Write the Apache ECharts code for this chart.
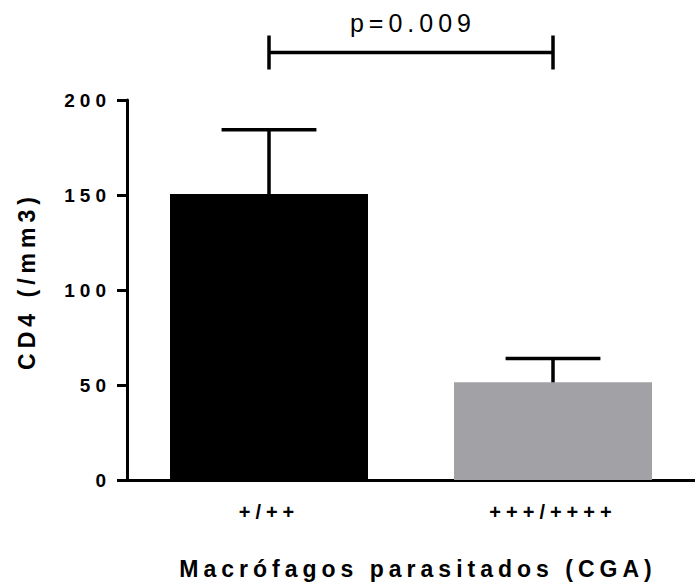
<!DOCTYPE html>
<html>
<head>
<meta charset="utf-8">
<script src="https://cdn.jsdelivr.net/npm/echarts@6/dist/echarts.min.js"></script>
<style>
  html, body { margin: 0; padding: 0; background: #fff; }
  #main { width: 695px; height: 585px; }
  /* wide letter spacing like the original GraphPad export */
  #main text { letter-spacing: 5px; }
</style>
</head>
<body>
<div id="main"></div>
<script>
// data
var categories = ['+/++', '+++/++++'];
var meanValues = [150.5, 51.4];
var errorValues = [33.8, 12.6]; // SD, upper side only
var barColors = ['#000000', '#a2a1a6'];
var yMin = 0, yMax = 200, yStep = 50;
var pLabel = 'p=0.009';
var bracketLevel = 225; // y value of the significance bracket

var FONT = '"Liberation Sans", Arial, sans-serif';

var chart = echarts.init(document.getElementById('main'), null, { renderer: 'svg' });

var option = {
  animation: false,
  backgroundColor: '#fff',
  grid: {
    left: 127,
    top: 100,
    width: 574,
    bottom: 104
  },
  xAxis: {
    type: 'category',
    data: categories,
    name: 'Macrófagos parasitados (CGA)',
    nameLocation: 'middle',
    nameGap: 77,
    nameTextStyle: { fontFamily: FONT, fontWeight: 'bold', fontSize: 23, color: '#000', padding: [0, 0, 0, 14] },
    axisLine: { lineStyle: { color: '#000', width: 3 } },
    axisTick: { alignWithLabel: true, length: 9, lineStyle: { color: '#000', width: 3 } },
    axisLabel: { fontFamily: FONT, fontWeight: 'bold', fontSize: 20, color: '#000', margin: 22 },
    splitLine: { show: false }
  },
  yAxis: {
    type: 'value',
    min: yMin,
    max: yMax,
    interval: yStep,
    name: 'CD4 (/mm3)',
    nameLocation: 'middle',
    nameGap: 89,
    nameTextStyle: { fontFamily: FONT, fontWeight: 'bold', fontSize: 23, color: '#000', padding: [0, 0, 0, 18] },
    axisLine: { show: true, lineStyle: { color: '#000', width: 3 } },
    axisTick: { show: true, length: 10, lineStyle: { color: '#000', width: 3 } },
    axisLabel: { fontFamily: FONT, fontWeight: 'bold', fontSize: 19, color: '#000', margin: 16 },
    splitLine: { show: false }
  },
  series: [
    {
      type: 'bar',
      barWidth: 198,
      data: meanValues.map(function (v, i) {
        return { value: v, itemStyle: { color: barColors[i] } };
      }),
      z: 2
    },
    {
      // error bars (mean -> mean + SD, with cap)
      type: 'custom',
      clip: false,
      z: 3,
      data: meanValues.map(function (v, i) { return [i, v, v + errorValues[i]]; }),
      renderItem: function (params, api) {
        var base = api.coord([api.value(0), api.value(1)]);
        var top = api.coord([api.value(0), api.value(2)]);
        var half = api.size([1, 0])[0] * 0.167;
        var st = { stroke: '#000', lineWidth: 3.5 };
        return {
          type: 'group',
          children: [
            { type: 'line', shape: { x1: base[0], y1: base[1], x2: top[0], y2: top[1] }, style: st },
            { type: 'line', shape: { x1: top[0] - half, y1: top[1], x2: top[0] + half, y2: top[1] }, style: st }
          ]
        };
      }
    },
    {
      // significance bracket
      type: 'custom',
      clip: false,
      z: 3,
      data: [[0, 1, bracketLevel]],
      renderItem: function (params, api) {
        var a = api.coord([api.value(0), api.value(2)]);
        var b = api.coord([api.value(1), api.value(2)]);
        var st = { stroke: '#000', lineWidth: 3.5 };
        var h = 17;
        return {
          type: 'group',
          children: [
            { type: 'line', shape: { x1: a[0], y1: a[1], x2: b[0], y2: b[1] }, style: st },
            { type: 'line', shape: { x1: a[0], y1: a[1] - h, x2: a[0], y2: a[1] + h }, style: st },
            { type: 'line', shape: { x1: b[0], y1: b[1] - h, x2: b[0], y2: b[1] + h }, style: st },
            {
              type: 'text',
              style: {
                text: pLabel,
                x: (a[0] + b[0]) / 2 + 2,
                y: a[1] - 30,
                align: 'center',
                verticalAlign: 'middle',
                fontFamily: FONT,
                fontSize: 25,
                fill: '#000'
              }
            }
          ]
        };
      }
    }
  ]
};

chart.setOption(option);
</script>
</body>
</html>
